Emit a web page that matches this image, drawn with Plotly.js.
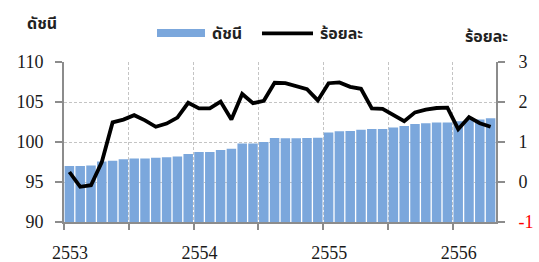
<!DOCTYPE html>
<html>
<head>
<meta charset="utf-8">
<script src="https://cdn.plot.ly/plotly-3.0.1.min.js"></script>
<style>html,body{margin:0;padding:0;background:#fff;}#chart{width:539px;height:262px;}</style>
</head>
<body>
<div id="chart"></div>
<script>
// Monthly data, Jan 2553 .. Apr 2556 (40 months)
const months = Array.from({length: 40}, (_, i) => i + 0.5);
const indexValues = [97.0, 97.0, 97.05, 97.55, 97.65, 97.85, 97.95, 97.95, 98.02, 98.1,
  98.2, 98.5, 98.75, 98.75, 99.0, 99.15, 99.82, 99.82, 100.0, 100.5,
  100.48, 100.48, 100.5, 100.52, 101.2, 101.35, 101.38, 101.52, 101.62, 101.62,
  101.82, 102.0, 102.25, 102.33, 102.45, 102.45, 102.58, 102.75, 102.8, 102.98];
const percentValues = [0.25, -0.12, -0.08, 0.5, 1.49, 1.56, 1.67, 1.54, 1.38, 1.46,
  1.61, 1.98, 1.84, 1.84, 2.01, 1.56, 2.2, 1.97, 2.03, 2.48,
  2.47, 2.39, 2.32, 2.04, 2.47, 2.49, 2.38, 2.33, 1.84, 1.83,
  1.68, 1.52, 1.74, 1.81, 1.85, 1.86, 1.32, 1.62, 1.47, 1.38];
const xTickVals = [0, 6, 12, 18, 24, 30, 36];
const xTickText = ['2553', '', '2554', '', '2555', '', '2556'];
const leftTicks = [90, 95, 100, 105, 110];
const rightTicks = [-1, 0, 1, 2, 3];
const rightTickText = ['<span style="color:#ff0000">-1</span>', '0', '1', '2', '3'];
const seriesNames = ['ดัชนี', 'ร้อยละ'];

const thai = 'Noto Sans Thai, Tahoma, DejaVu Sans, sans-serif';
const serif = '"Liberation Serif", "DejaVu Serif", serif';

const traces = [
  {type: 'bar', x: months, y: indexValues, name: seriesNames[0], yaxis: 'y',
   marker: {color: '#7BA7DC', line: {width: 0}}, showlegend: false, hoverinfo: 'skip'},
  {type: 'scatter', mode: 'lines', x: months, y: percentValues, name: seriesNames[1], yaxis: 'y2',
   line: {color: '#000000', width: 3.8}, showlegend: false, hoverinfo: 'skip'}
];

const tf = {family: serif, size: 18, color: '#1a1a1a'};

const layout = {
  width: 539, height: 262,
  margin: {l: 64, r: 43, t: 62, b: 40},
  paper_bgcolor: '#ffffff', plot_bgcolor: '#ffffff',
  bargap: 0.12,
  font: {family: serif, size: 18, color: '#1a1a1a'},
  xaxis: {
    range: [0, 40], tickvals: xTickVals, ticktext: xTickText,
    showgrid: true, gridcolor: '#c4c4c4', griddash: '3px,2px', gridwidth: 1,
    zeroline: false, showline: true, linecolor: '#8c8c8c', linewidth: 2,
    ticks: 'outside', ticklen: 6, tickcolor: '#8c8c8c', tickwidth: 2,
    ticklabelshift: 6, ticklabelstandoff: 7,
    tickfont: tf, fixedrange: true
  },
  yaxis: {
    range: [90, 110], tickvals: leftTicks,
    showgrid: true, gridcolor: '#c4c4c4', griddash: '3px,2px', gridwidth: 1,
    zeroline: false, showline: true, linecolor: '#8c8c8c', linewidth: 2,
    ticks: 'outside', ticklen: 7, tickcolor: '#8c8c8c', tickwidth: 2,
    ticklabelstandoff: 8,
    tickfont: tf, fixedrange: true
  },
  yaxis2: {
    range: [-1, 3], tickvals: rightTicks, ticktext: rightTickText,
    overlaying: 'y', side: 'right', showgrid: false, zeroline: false,
    showline: true, linecolor: '#8c8c8c', linewidth: 2,
    ticks: 'outside', ticklen: 7, tickcolor: '#8c8c8c', tickwidth: 2,
    ticklabelstandoff: 10,
    tickfont: tf, fixedrange: true
  },
  shapes: [
    {type: 'rect', xref: 'paper', yref: 'paper', x0: 0.2153, x1: 0.3264, y0: 1.156, y1: 1.206,
     fillcolor: '#7BA7DC', line: {width: 0}},
    {type: 'line', xref: 'paper', yref: 'paper', x0: 0.4583, x1: 0.5764, y0: 1.179, y1: 1.179,
     line: {color: '#000', width: 3.8}}
  ],
  annotations: [
    {xref: 'paper', yref: 'paper', x: 0.338, y: 1.178, xanchor: 'left', yanchor: 'middle',
     text: '<b>' + seriesNames[0] + '</b>', showarrow: false, font: {family: thai, size: 16, color: '#222'}},
    {xref: 'paper', yref: 'paper', x: 0.588, y: 1.178, xanchor: 'left', yanchor: 'middle',
     text: '<b>' + seriesNames[1] + '</b>', showarrow: false, font: {family: thai, size: 16, color: '#222'}},
    {xref: 'paper', yref: 'paper', x: -0.051, y: 1.24, xanchor: 'center', yanchor: 'middle',
     text: '<b>' + seriesNames[0] + '</b>', showarrow: false, font: {family: thai, size: 16, color: '#222'}},
    {xref: 'paper', yref: 'paper', x: 0.977, y: 1.155, xanchor: 'center', yanchor: 'middle',
     text: '<b>' + seriesNames[1] + '</b>', showarrow: false, font: {family: thai, size: 16, color: '#222'}}
  ]
};

Plotly.newPlot('chart', traces, layout, {staticPlot: true, displayModeBar: false});
</script>
</body>
</html>
